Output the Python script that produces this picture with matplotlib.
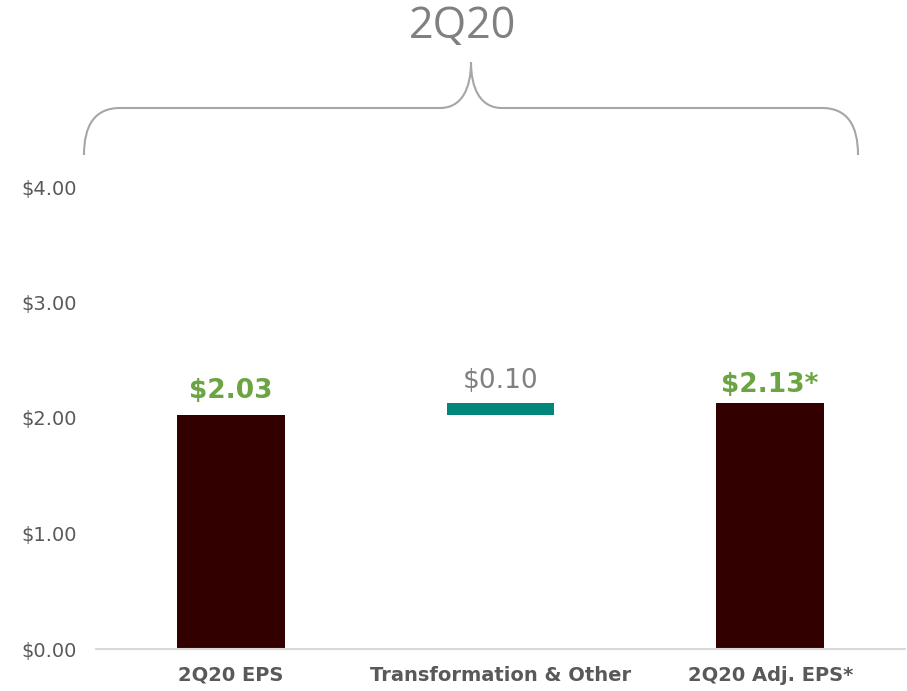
import matplotlib
matplotlib.use("Agg")
import matplotlib.pyplot as plt
from matplotlib.path import Path
from matplotlib.patches import PathPatch

categories = ["2Q20 EPS", "Transformation & Other", "2Q20 Adj. EPS*"]
bar_bottoms = [0.0, 2.03, 0.0]
bar_heights = [2.03, 0.10, 2.13]
value_labels = ["$2.03", "$0.10", "$2.13*"]
yticks = [0, 1, 2, 3, 4]
ytick_labels = ["$0.00", "$1.00", "$2.00", "$3.00", "$4.00"]
title = "2Q20"

W, H = 907, 691
fig = plt.figure(figsize=(W / 100, H / 100), dpi=100)
fig.patch.set_facecolor("white")

ax = fig.add_axes([96 / W, (H - 649) / H, 809 / W, (649 - 187) / H])
bar_colors = ["#330000", "#00877a", "#330000"]
label_colors = ["#6aa443", "#808080", "#6aa443"]
label_weights = ["bold", "normal", "bold"]
label_offsets = [12, 11, 8]

x = list(range(len(categories)))
ax.bar(x, bar_heights, bottom=bar_bottoms, width=0.40, color=bar_colors)
for i in x:
    top = bar_bottoms[i] + bar_heights[i]
    ax.annotate(value_labels[i], (i, top), xytext=(0, label_offsets[i]),
                textcoords="offset points", ha="center", va="baseline",
                fontsize=19, color=label_colors[i], fontweight=label_weights[i],
                family="DejaVu Sans", annotation_clip=False)

ax.set_xlim(-0.5, 2.5)
ax.set_ylim(0, 4)
ax.set_yticks(yticks)
ax.set_yticklabels(ytick_labels, fontsize=14, color="#595959")
ax.set_xticks(x)
ax.set_xticklabels(categories, fontsize=14, fontweight="bold", color="#595959")
ax.tick_params(axis="y", length=0, pad=14)
ax.tick_params(axis="x", length=0, pad=12)
for s in ["top", "right", "left"]:
    ax.spines[s].set_visible(False)
ax.spines["bottom"].set_color("#d9d9d9")
ax.spines["bottom"].set_linewidth(1.5)

# brace (figure pixel coordinates converted to fraction)
def P(px, py):
    return (px / W, 1 - py / H)

verts = [P(84, 155), P(84, 125), P(95, 108), P(120, 108),
         P(440, 108),
         P(462, 108), P(471, 88), P(471, 62),
         P(471, 88), P(480, 108), P(502, 108),
         P(822, 108),
         P(847, 108), P(858, 125), P(858, 155)]
codes = [Path.MOVETO, Path.CURVE4, Path.CURVE4, Path.CURVE4,
         Path.LINETO,
         Path.CURVE4, Path.CURVE4, Path.CURVE4,
         Path.CURVE4, Path.CURVE4, Path.CURVE4,
         Path.LINETO,
         Path.CURVE4, Path.CURVE4, Path.CURVE4]
brace = PathPatch(Path(verts, codes), transform=fig.transFigure,
                  facecolor="none", edgecolor="#a6a6a6", linewidth=1.5)
fig.add_artist(brace)

fig.text(462 / W, 1 - 27 / H, title, ha="center", va="center",
         fontsize=31, color="#808080", family="Open Sans")

fig.savefig("out.png", dpi=100)
